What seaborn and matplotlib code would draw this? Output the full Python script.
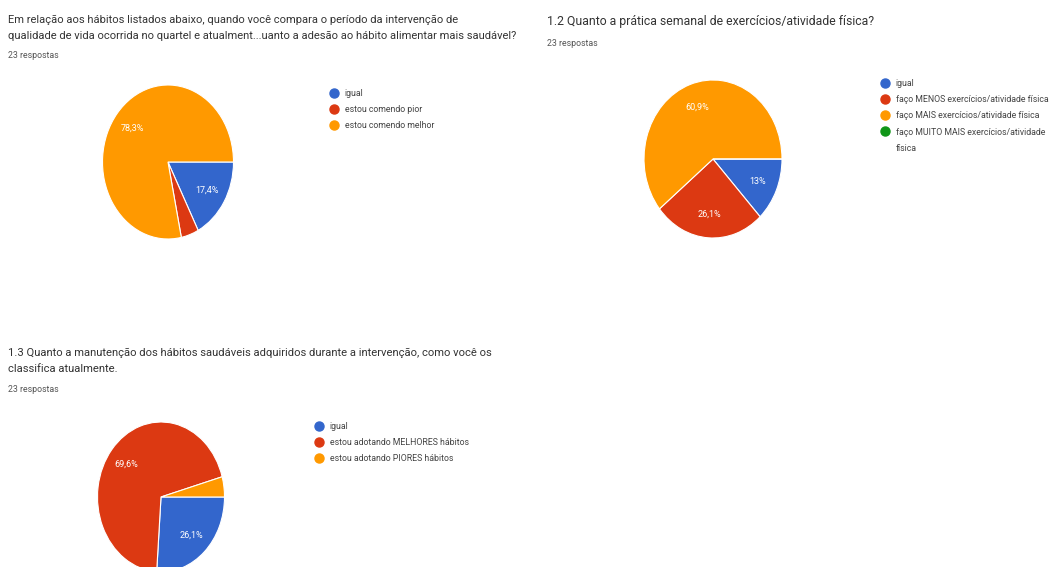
import matplotlib
matplotlib.use("Agg")
import matplotlib.pyplot as plt
from matplotlib.lines import Line2D
import seaborn as sns

# Survey answers (23 respondents per question)
q1_title = ("Em relação aos hábitos listados abaixo, quando você compara o período da intervenção de\n"
            "qualidade de vida ocorrida no quartel e atualment...uanto a adesão ao hábito alimentar mais saudável?")
q1_labels = ["igual", "estou comendo pior", "estou comendo melhor"]
q1_counts = [4, 1, 18]

q2_title = "1.2 Quanto a prática semanal de exercícios/atividade física?"
q2_labels = ["igual", "faço MENOS exercícios/atividade física",
             "faço MAIS exercícios/atividade física",
             "faço MUITO MAIS exercícios/atividade\nfísica"]
q2_counts = [3, 6, 14, 0]

q3_title = ("1.3 Quanto a manutenção dos hábitos saudáveis adquiridos durante a intervenção, como você os\n"
            "classifica atualmente.")
q3_labels = ["igual", "estou adotando MELHORES hábitos", "estou adotando PIORES hábitos"]
q3_counts = [6, 16, 1]

subtitle = "23 respostas"
palette = ["#3366CC", "#DC3912", "#FF9900", "#109618"]

sns.set_theme(style="white")
plt.rcParams["font.family"] = ["Roboto", "DejaVu Sans"]

W, H = 1059, 567
fig = plt.figure(figsize=(W / 100, H / 100), dpi=100)
fig.patch.set_facecolor("white")


def fx(x):
    return x / W


def fy(y):
    return 1 - y / H


def pct_label(p):
    if p < 5:
        return ""
    return f"{round(p, 1):g}".replace(".", ",") + "%"


def draw_pie(counts, labels, cx, cy, rx, ry, leg_x, leg_y, spacing):
    ax = fig.add_axes([fx(cx - rx), fy(cy + ry), 2 * rx / W, 2 * ry / H])
    colors = palette[:len(counts)]
    ax.pie(
        counts, colors=colors, startangle=0, counterclock=False,
        autopct=pct_label, pctdistance=0.7, radius=1,
        wedgeprops=dict(edgecolor="white", linewidth=0.8),
        textprops=dict(color="white", fontsize=6.5),
    )
    ax.set_aspect("auto")
    ax.set_xlim(-1, 1)
    ax.set_ylim(-1, 1)
    ax.axis("off")
    # Legend: wrapped labels keep the marker on their first line,
    # continuation lines get an empty handle.
    handles, texts = [], []
    for c, lab in zip(colors, labels):
        lines = lab.split("\n")
        handles.append(Line2D([0], [0], marker="o", linestyle="", markersize=6.5,
                              markerfacecolor=c, markeredgecolor=c))
        texts.append(lines[0])
        for extra in lines[1:]:
            handles.append(Line2D([0], [0], linestyle="", marker=""))
            texts.append(extra)
    ax.legend(handles, texts, loc="upper left",
              bbox_to_anchor=(fx(leg_x), fy(leg_y)), bbox_transform=fig.transFigure,
              frameon=False, borderpad=0, borderaxespad=0, handlelength=0.8,
              handletextpad=0.9, labelspacing=spacing, fontsize=6.3,
              labelcolor="#444444")
    return ax


title_kw = dict(fontsize=8.05, color="#333333", va="center", ha="left", linespacing=1.75)
sub_kw = dict(fontsize=6.3, color="#555555", va="center", ha="left")

# Question 1
fig.text(fx(8), fy(28), q1_title, **title_kw)
fig.text(fx(8), fy(56), subtitle, **sub_kw)
draw_pie(q1_counts, q1_labels, 168, 162, 65.5, 77, 330, 89, 0.8)

# Question 2
fig.text(fx(547), fy(22), q2_title, **{**title_kw, "fontsize": 8.8})
fig.text(fx(547), fy(43), subtitle, **sub_kw)
draw_pie(q2_counts, q2_labels, 713, 159, 69, 79, 881, 79, 0.82)

# Question 3
fig.text(fx(8), fy(361), q3_title, **{**title_kw, "fontsize": 8.15})
fig.text(fx(8), fy(389), subtitle, **sub_kw)
draw_pie(q3_counts, q3_labels, 161, 497, 63.5, 75, 315, 422, 0.8)

fig.savefig("out.png", dpi=100, facecolor="white")
